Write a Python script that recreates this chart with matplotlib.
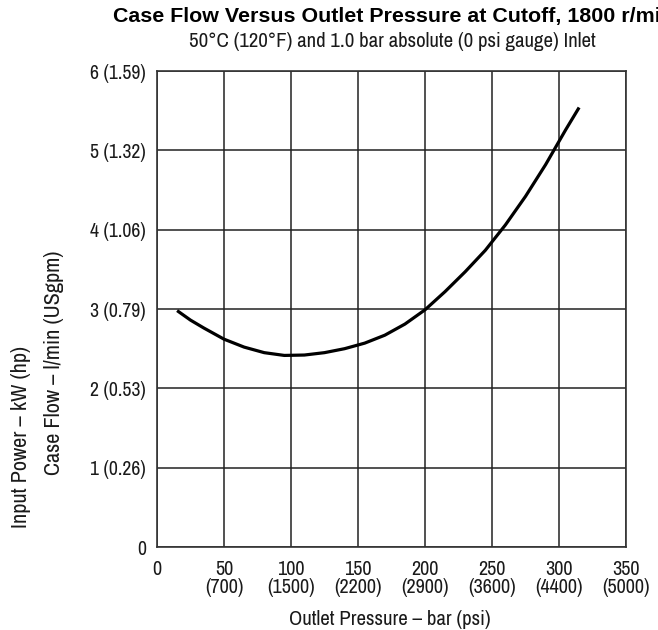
import matplotlib
matplotlib.use("Agg")
from matplotlib import pyplot as plt

# outlet pressure, bar
pressure = [15, 25, 35, 50, 65, 80, 95, 110, 125, 140, 155, 170, 185,
            200, 215, 230, 245, 260, 275, 290, 305, 315]
# case flow, l/min
flow = [2.98, 2.86, 2.76, 2.62, 2.52, 2.45, 2.415, 2.42, 2.45, 2.50, 2.57,
        2.67, 2.81, 2.99, 3.22, 3.47, 3.74, 4.06, 4.42, 4.82, 5.26, 5.54]

x_ticks = [0, 50, 100, 150, 200, 250, 300, 350]
x_labels = ["0", "50\n(700)", "100\n(1500)", "150\n(2200)", "200\n(2900)",
            "250\n(3600)", "300\n(4400)", "350\n(5000)"]
y_ticks = [0, 1, 2, 3, 4, 5, 6]
y_labels = ["0", "1 (0.26)", "2 (0.53)", "3 (0.79)", "4 (1.06)",
            "5 (1.32)", "6 (1.59)"]

narrow = ["Archivo Narrow", "DejaVu Sans"]
plt.rcParams['font.family'] = narrow

fig = plt.figure(figsize=(6.58, 6.30), dpi=100)
ax = fig.add_axes([0.2386, 0.1317, 0.7128, 0.7556])

ax.plot(pressure, flow, color="black", lw=2.3, solid_capstyle="butt")

ax.set_xlim(0, 350)
ax.set_ylim(0, 6)
ax.set_xticks(x_ticks)
ax.set_xticklabels(x_labels, fontsize=14.5, linespacing=0.95, color="#1a1a1a")
ax.set_yticks(y_ticks)
ax.set_yticklabels(y_labels, fontsize=14.2, color="#1a1a1a")
ax.tick_params(axis="x", length=0, pad=9)
ax.tick_params(axis="y", length=0, pad=8)
ax.grid(True, color="#222222", lw=1.1)
for s in ax.spines.values():
    s.set_color("#333333")
    s.set_linewidth(1.2)

# title runs past the right edge of the sheet
fig.text(113/658, 1 - 22/630, "Case Flow Versus Outlet Pressure at Cutoff, 1800 r/min",
         fontsize=15.4, fontweight="bold", family=["Liberation Sans", "DejaVu Sans"],
         ha="left", va="baseline")
fig.text(392/658, 1 - 47/630, "50°C (120°F) and 1.0 bar absolute (0 psi gauge) Inlet",
         fontsize=15, ha="center", va="baseline", color="#1a1a1a")
fig.text(390/658, 1 - 625/630, "Outlet Pressure – bar (psi)",
         fontsize=15, ha="center", va="baseline", color="#1a1a1a")
fig.text(21/658, 1 - 528/630, "Input Power – kW (hp)", rotation=90,
         fontsize=16, ha="center", va="bottom", color="#1a1a1a")
fig.text(54/658, 1 - 475/630, "Case Flow – l/min (USgpm)", rotation=90,
         fontsize=16, ha="center", va="bottom", color="#1a1a1a")

fig.savefig("out.png", dpi=100)
